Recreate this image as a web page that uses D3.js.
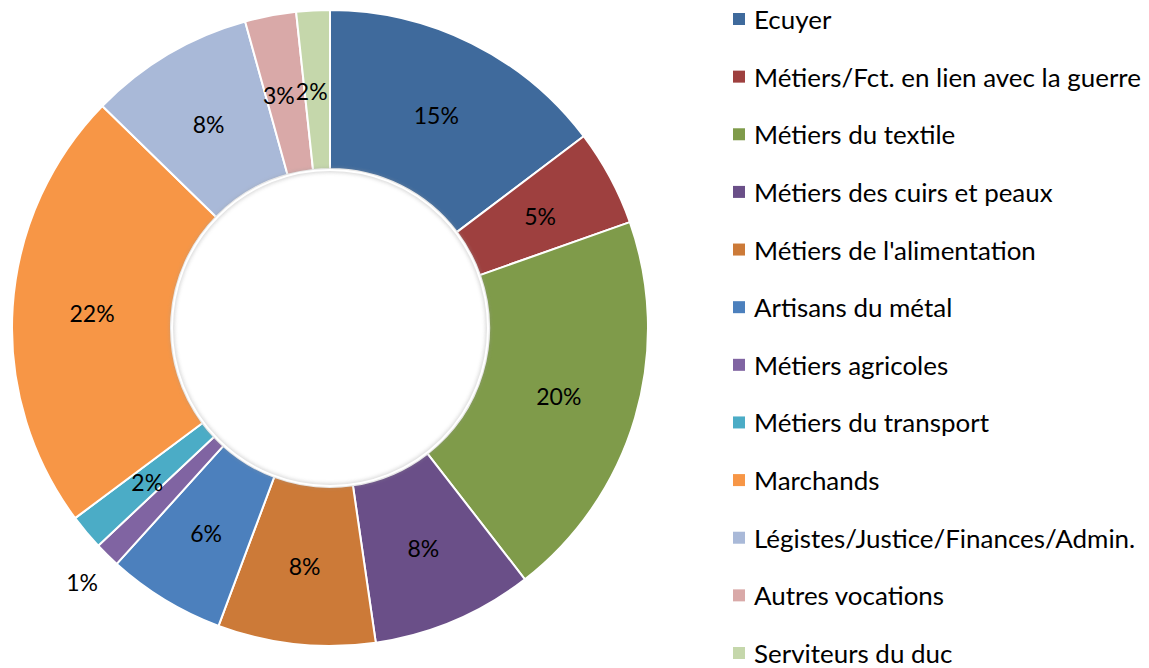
<!DOCTYPE html>
<html><head><meta charset="utf-8">
<script src="https://cdn.jsdelivr.net/npm/d3@7"></script>
<style>body{margin:0;background:#fff}svg{display:block}text{font-family:Lato,"Noto Sans",sans-serif}</style>
</head><body><svg id="c" width="1149" height="668"></svg>
<script>
const categories = ["Ecuyer","Métiers/Fct. en lien avec la guerre","Métiers du textile","Métiers des cuirs et peaux","Métiers de l'alimentation","Artisans du métal","Métiers agricoles","Métiers du transport","Marchands","Légistes/Justice/Finances/Admin.","Autres vocations","Serviteurs du duc"];
const values = [14.7,4.9,19.9,8.2,8.0,6.0,1.3,1.8,22.5,8.4,2.6,1.7];
const labels = ["15%","5%","20%","8%","8%","6%","1%","2%","22%","8%","3%","2%"];
const colors = ["#3F6A9C","#9E403F","#7F9B4A","#6A4F88","#CC7A38","#4C80BD","#8064A2","#4BACC6","#F79646","#A9B9D8","#D9A9A8","#C5D7AB"];

const svg = d3.select("#c");
const cx = 330, cy = 328, R = 318, r0 = 159;
const g = svg.append("g").attr("transform",`translate(${cx},${cy})`);
const pie = d3.pie().sort(null).value(d=>d)(values);
const arc = d3.arc().innerRadius(r0).outerRadius(R);
const color = d3.scaleOrdinal().domain(categories).range(colors);

const defs = svg.append("defs");
const f = defs.append("filter").attr("id","sh").attr("x","-20%").attr("y","-20%").attr("width","140%").attr("height","140%");
f.append("feGaussianBlur").attr("stdDeviation",2);

g.selectAll("path.s").data(pie).join("path").attr("class","s")
  .attr("d",arc).attr("fill",(d,i)=>color(categories[i]))
  .attr("stroke","#fff").attr("stroke-width",2).attr("stroke-linejoin","round");

g.append("circle").attr("r",r0-1).attr("fill","none").attr("stroke","#999").attr("stroke-width",2.5).attr("filter","url(#sh)").attr("opacity",0.7);
g.append("circle").attr("r",r0-1).attr("fill","none").attr("stroke","#fff").attr("stroke-width",2);

const outArc = d3.arc().innerRadius(354).outerRadius(354);
// last two small slices: labels placed side by side around a shared boundary
const cA = arc.centroid(pie[10]), cB = arc.centroid(pie[11]);
const bx = (cA[0] + cB[0]) / 2 - 6;
g.selectAll("text.l").data(pie).join("text").attr("class","l")
  .attr("transform",(d,i)=>{
    const c = labels[i]==="1%" ? outArc.centroid(d) : arc.centroid(d);
    let x = c[0];
    if (i===10) x = bx - 0.5; if (i===11) x = bx + 0.5;
    return `translate(${x},${c[1]+1})`;})
  .attr("text-anchor",(d,i)=> i===10 ? "end" : i===11 ? "start" : "middle")
  .attr("dominant-baseline","central")
  .attr("font-size",23).attr("fill","#000").text((d,i)=>labels[i]);

const leg = svg.append("g");
const ly = d3.scalePoint().domain(categories).range([19,653]);
const items = leg.selectAll("g").data(categories).join("g").attr("transform",d=>`translate(733,${ly(d)})`);
items.append("rect").attr("x",0).attr("y",-6).attr("width",12).attr("height",12).attr("fill",d=>color(d));
const txt = items.append("text").attr("x",21).attr("y",0).attr("dominant-baseline","central").attr("font-size",22).attr("fill","#000").text(d=>d);
const w = d3.max(txt.nodes(), n=>n.getComputedTextLength());
txt.attr("font-size", 22*387/w);
</script></body></html>
